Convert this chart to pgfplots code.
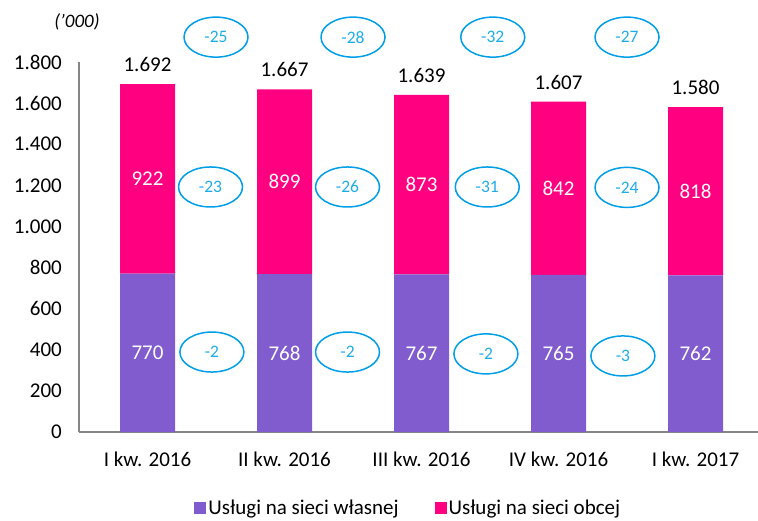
\documentclass[border=0pt]{standalone}
\usepackage{pgfplots}
\pgfplotsset{compat=1.18}
\usepackage{fontspec}
\setmainfont{Carlito}
\usetikzlibrary{shapes.geometric}
\definecolor{cpurple}{RGB}{129,92,206}
\definecolor{cpink}{RGB}{255,0,128}
\definecolor{cgray}{RGB}{134,134,134}
\definecolor{cell}{RGB}{0,158,232}
\definecolor{celltxt}{RGB}{30,172,232}
\begin{document}
\begin{tikzpicture}
\useasboundingbox (-79pt,-88pt) rectangle (679pt,432pt);
\pgfplotsset{
  common/.style={
    scale only axis, width=679pt, height=370pt,
    at={(0pt,0pt)}, anchor=south west,
    xmin=-0.5, xmax=4.456, ymin=0, ymax=1800,
    clip=false,
  }
}
\begin{axis}[common,
  ybar stacked, bar width=55pt,
  axis x line*=bottom, axis y line*=left,
  axis line style={cgray, line width=1.6pt, -},
  major tick length=0,
  xtick={0,1,2,3,4},
  xticklabels={I kw. 2016, II kw. 2016, III kw. 2016, IV kw. 2016, I kw. 2017},
  ytick={0,200,...,1800},
  /pgf/number format/.cd, 1000 sep={.}, assume math mode=true, /pgfplots/.cd,
  tick label style={font=\fontsize{21}{24}\selectfont},
  yticklabel style={inner sep=0pt, xshift=-17pt},
  xticklabel style={inner sep=0pt, yshift=-20pt},
  legend style={draw=none, at={(axis description cs:0.485,-0.206)}, anchor=center,
    font=\fontsize{21}{24}\selectfont, legend columns=2,
    /tikz/every even column/.append style={column sep=34pt}},
  legend image code/.code={\fill[#1] (0pt,-6pt) rectangle (12pt,6pt);},
]
\addplot[fill=cpurple, draw=none] coordinates {(0,770) (1,768) (2,767) (3,765) (4,762)};
\addplot[fill=cpink, draw=none] coordinates {(0,922) (1,899) (2,873) (3,842) (4,818)};
\legend{Usługi na sieci własnej, Usługi na sieci obcej}
\end{axis}
\begin{axis}[common, hide axis,
  nodes near coords, point meta=explicit symbolic]
% inner labels purple
\addplot[draw=none, mark=none, nodes near coords style={anchor=center, text=white, font=\fontsize{21}{24}\selectfont}]
  coordinates {(0,385)[770] (1,384)[768] (2,383.5)[767] (3,382.5)[765] (4,381)[762]};
% inner labels pink
\addplot[draw=none, mark=none, nodes near coords style={anchor=center, text=white, font=\fontsize{21}{24}\selectfont}]
  coordinates {(0,1231)[922] (1,1217.5)[899] (2,1203.5)[873] (3,1186)[842] (4,1171)[818]};
% totals
\addplot[draw=none, mark=none, nodes near coords style={anchor=south, inner sep=0pt, yshift=12pt, text=black, font=\fontsize{21}{24}\selectfont}]
  coordinates {(0,1692)[1.692] (1,1667)[1.667] (2,1639)[1.639] (3,1607)[1.607] (4,1580)[1.580]};
% ellipses
\addplot[draw=none, mark=none, nodes near coords style={anchor=center, shape=ellipse, draw=cell, line width=1.5pt, minimum width=64pt, minimum height=40pt, inner sep=0pt, outer sep=0pt, text=celltxt, font=\fontsize{17.5}{20}\selectfont}]
  coordinates {(0.5,1921)[-25] (1.5,1921)[-28] (2.52,1921)[-32] (3.5,1921)[-27]
               (0.46,1192)[-23] (1.46,1192)[-26] (2.48,1192)[-31] (3.5,1190)[-24]
               (0.47,389)[-2] (1.46,389)[-2] (2.47,380)[-2] (3.47,370)[-3]};
\end{axis}
\node[font=\fontsize{19}{22}\selectfont\itshape] at (-2pt,410pt) {('000)};
\end{tikzpicture}
\end{document}
